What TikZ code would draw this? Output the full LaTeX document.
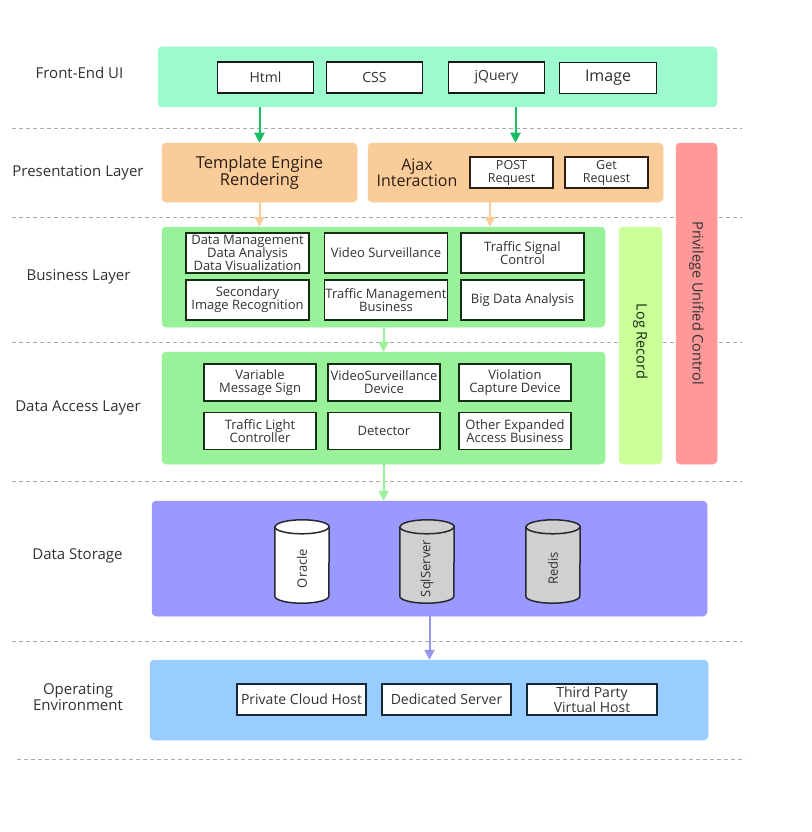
\documentclass[tikz,border=0pt]{standalone}
\usepackage{fontspec}
\setmainfont{Open Sans}
\usetikzlibrary{arrows.meta}
\definecolor{frontc}{RGB}{156,250,206}
\definecolor{arrg}{RGB}{22,190,100}
\definecolor{orng}{RGB}{250,204,153}
\definecolor{pinkc}{RGB}{255,153,153}
\definecolor{logc}{RGB}{204,255,153}
\definecolor{bizc}{RGB}{153,242,153}
\definecolor{stoc}{RGB}{153,153,255}
\definecolor{stoarr}{RGB}{150,150,240}
\definecolor{oec}{RGB}{153,204,255}
\definecolor{cylg}{RGB}{208,208,208}
\definecolor{cyld}{RGB}{40,40,50}
\definecolor{dashc}{RGB}{170,170,170}
\definecolor{txt}{RGB}{50,50,50}
\definecolor{bdark}{RGB}{25,25,25}
\definecolor{pdark}{RGB}{45,30,20}
\definecolor{gdark}{RGB}{20,45,20}
\definecolor{odark}{RGB}{20,40,55}
\newcommand\myfs[2]{\fontsize{#1}{#2}\selectfont}
\tikzset{
  layer/.style={draw=#1, fill=#1, rounded corners=4pt, inner sep=0pt, line width=0.5pt},
  ibox/.style={draw=#1, fill=white, line width=1.6pt, inner sep=0pt, align=center, font=\myfs{13}{13}, text=txt},
  side/.style={align=center, font=\myfs{15}{14}, text=txt},
  dashline/.style={draw=dashc, line width=0.9pt, dash pattern=on 4pt off 3pt},
  arr/.style={draw=#1, line width=2pt, -{Triangle[width=10pt,length=10pt]}, fill=#1},
}
\newcommand\cyl[4]{%
  \node[minimum width=54pt, minimum height=83pt, inner sep=0pt] (#1) at (#2,561.5) {};
  \filldraw[fill=#3, draw=cyld, line width=1.5pt] ([yshift=-7pt]#1.north west) -- ([yshift=7pt]#1.south west) arc[start angle=180,end angle=360,x radius=27pt,y radius=7pt] -- ([yshift=-7pt]#1.north east) arc[start angle=0,end angle=180,x radius=27pt,y radius=7pt] -- cycle;
  \draw[draw=cyld, line width=1.5pt] ([yshift=-7pt]#1.north west) arc[start angle=180,end angle=360,x radius=27pt,y radius=7pt];
  \node[rotate=90, font=\myfs{13}{13}, text=txt] (#1t) at ([yshift=-7pt]#1.center) {#4};}
\begin{document}
\begin{tikzpicture}[x=1pt,y=-1pt]
\fill[white] (0,0) rectangle (811,832);
\useasboundingbox (0,0) rectangle (811,832);
% dashed separators
\foreach \yy in {128,217,342,481,641} \draw[dashline] (12,\yy) -- (742,\yy);
\draw[dashline] (17,759) -- (745,759);
% side labels
\node[side] (l1) at (79.5,73) {Front-End UI};
\node[side] (l2) at (78,173) {Presentation Layer};
\node[side] (l3) at (78.5,277) {Business Layer};
\node[side] (l4) at (78,408) {Data Access Layer};
\node[side] (l5) at (77.5,556) {Data Storage};
\node[side] (l6) at (78,697) {Operating\\Environment};
% front-end
\node[layer=frontc, minimum width=559pt, minimum height=60pt] (front) at (437.5,77) {};
\node[ibox=bdark, minimum width=96pt, minimum height=31pt, font=\myfs{14}{14}] (html) at (265.5,77.5) {Html};
\node[ibox=bdark, minimum width=96pt, minimum height=31pt, font=\myfs{14}{14}] (css) at (374.5,77.5) {CSS};
\node[ibox=bdark, minimum width=96pt, minimum height=31pt, font=\myfs{14}{14}] (jq) at (496.5,77.5) {jQuery};
\node[ibox=bdark, minimum width=97pt, minimum height=31pt, font=\myfs{16}{16}] (img) at (608,78) {Image};
% presentation
\node[layer=orng, minimum width=195pt, minimum height=59pt, align=center, font=\myfs{16.5}{16}, text=pdark] (tpl) at (259.5,172.5) {Template Engine\\Rendering};
\node[layer=orng, minimum width=295pt, minimum height=59pt] (ajax) at (515.5,172.5) {};
\node[align=center, font=\myfs{16}{16}, text=pdark] (ajaxt) at (417,173) {Ajax\\Interaction};
\node[ibox=pdark, minimum width=83pt, minimum height=31pt, font=\myfs{12.5}{13}] (post) at (511.5,172.5) {POST\\Request};
\node[ibox=pdark, minimum width=83pt, minimum height=31pt, font=\myfs{12.5}{13}] (get) at (606.5,172.5) {Get\\Request};
% side bars
\node[layer=pinkc, minimum width=41pt, minimum height=321pt] (priv) at (696.5,303.5) {};
\node[rotate=-90, font=\myfs{14.5}{14.5}, text=txt] (privt) at (696.5,303) {Privilege Unified Control};
\node[layer=logc, minimum width=43pt, minimum height=237pt] (log) at (640.5,345.5) {};
\node[rotate=-90, font=\myfs{14.5}{14.5}, text=gdark] (logt) at (640.5,341.5) {Log Record};
% business
\node[layer=bizc, minimum width=443pt, minimum height=100pt] (biz) at (383.5,277) {};
\node[ibox=gdark, minimum width=123pt, minimum height=40pt] (b1) at (247.5,253) {Data Management\\Data Analysis\\Data Visualization};
\node[ibox=gdark, minimum width=123pt, minimum height=40pt] (b2) at (386,253) {Video Surveillance};
\node[ibox=gdark, minimum width=123pt, minimum height=40pt] (b3) at (522.5,253) {Traffic Signal\\Control};
\node[ibox=gdark, minimum width=123pt, minimum height=40pt] (b4) at (247.5,300) {Secondary\\Image Recognition};
\node[ibox=gdark, minimum width=123pt, minimum height=40pt] (b5) at (386,300) {Traffic Management\\Business};
\node[ibox=gdark, minimum width=123pt, minimum height=40pt] (b6) at (522.5,300) {Big Data Analysis};
% data access
\node[layer=bizc, minimum width=443pt, minimum height=112pt] (dal) at (383.5,408) {};
\node[ibox=gdark, minimum width=112pt, minimum height=37pt] (d1) at (260,382.5) {Variable\\Message Sign};
\node[ibox=gdark, minimum width=112pt, minimum height=37pt] (d2) at (384,382.5) {VideoSurveillance\\Device};
\node[ibox=gdark, minimum width=112pt, minimum height=37pt] (d3) at (515,382.5) {Violation\\Capture Device};
\node[ibox=gdark, minimum width=112pt, minimum height=37pt] (d4) at (260,431) {Traffic Light\\Controller};
\node[ibox=gdark, minimum width=112pt, minimum height=37pt] (d5) at (384,431) {Detector};
\node[ibox=gdark, minimum width=112pt, minimum height=37pt] (d6) at (515,431) {Other Expanded\\Access Business};
% storage
\node[layer=stoc, minimum width=555pt, minimum height=115pt] (sto) at (429.5,558.5) {};
\cyl{oracle}{302}{white}{Oracle}
\cyl{sql}{427}{cylg}{SqlServer}
\cyl{redis}{553}{cylg}{Redis}
% operating environment
\node[layer=oec, minimum width=558pt, minimum height=80pt] (oe) at (429,700) {};
\node[ibox=odark, minimum width=129pt, minimum height=31pt, font=\myfs{14}{13}] (o1) at (301.5,699.5) {Private Cloud Host};
\node[ibox=odark, minimum width=129pt, minimum height=31pt, font=\myfs{14}{13}] (o2) at (446.5,699.5) {Dedicated Server};
\node[ibox=odark, minimum width=130pt, minimum height=31pt, font=\myfs{14}{13}] (o3) at (592,699.5) {Third Party\\Virtual Host};
% connectors
\draw[arr=arrg] (front.south -| tpl) -- (tpl.north);
\draw[arr=arrg] (front.south -| ajax) -- (ajax.north);
\coordinate (ajaxo) at ([xshift=-25.5pt]ajax.south);
\draw[arr=orng] (tpl.south) -- (biz.north -| tpl);
\draw[arr=orng] (ajaxo) -- (biz.north -| ajaxo);
\draw[arr=bizc] (biz.south) -- (dal.north);
\draw[arr=bizc] (dal.south) -- (sto.north -| dal.south);
\draw[arr=stoarr] (sto.south) -- (oe.north -| sto.south);
\end{tikzpicture}
\end{document}
